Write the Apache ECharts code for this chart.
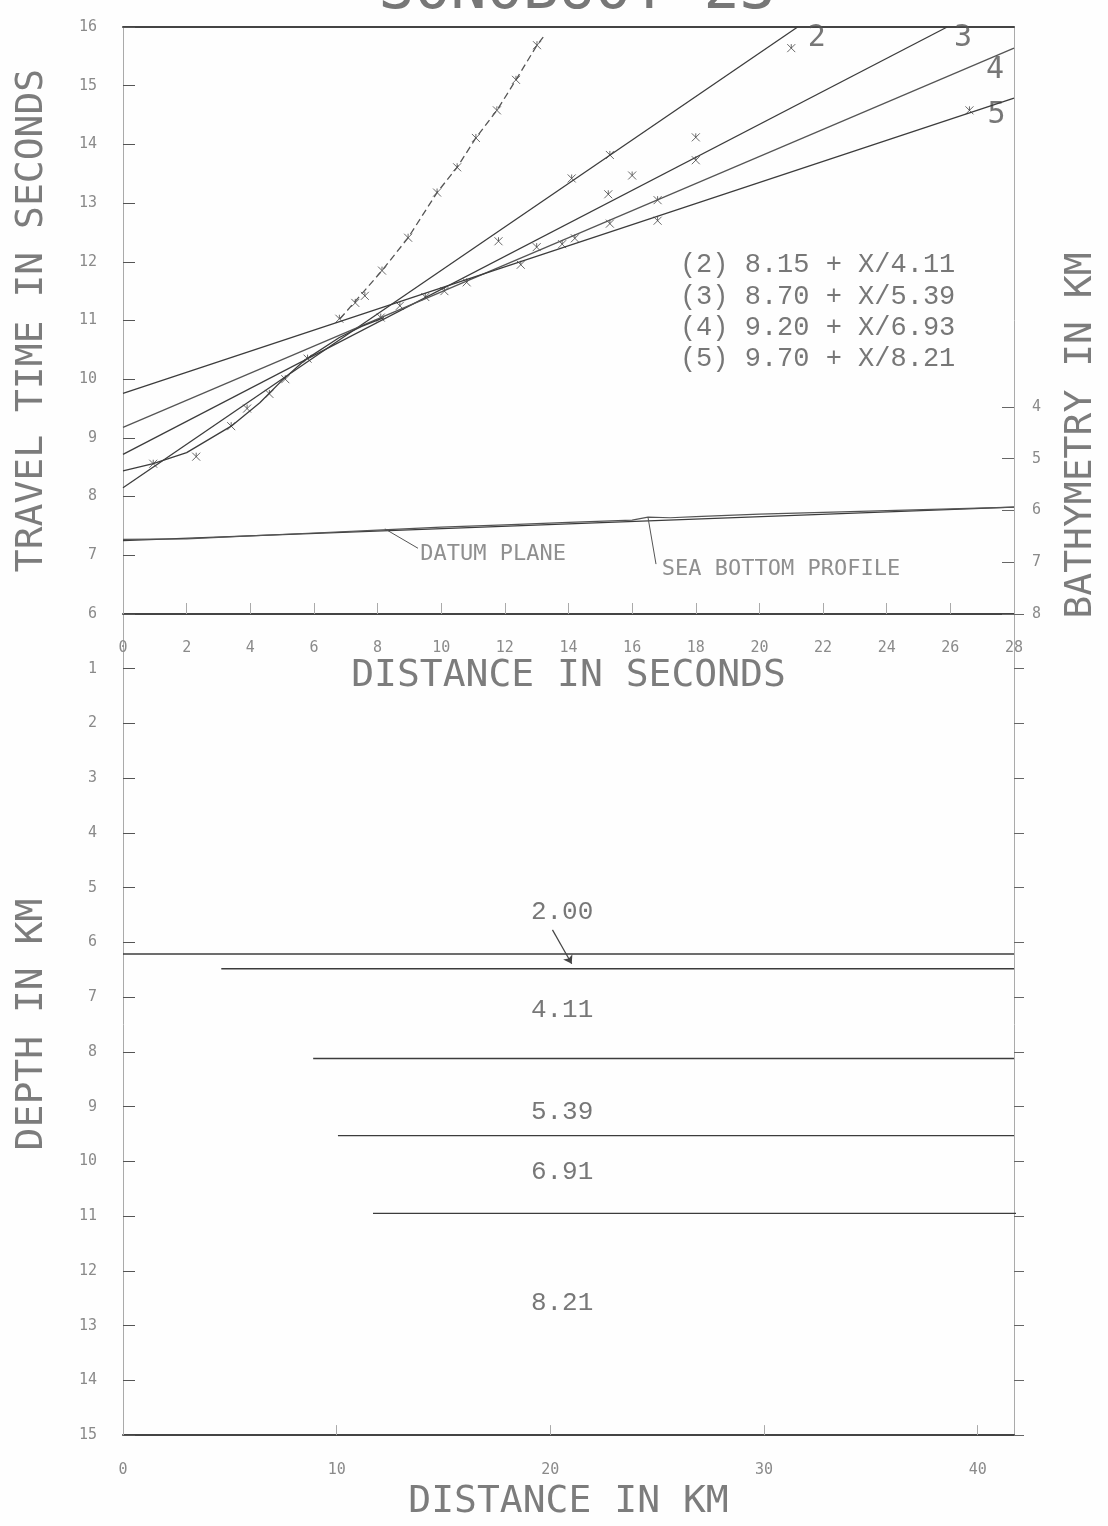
<!doctype html>
<html lang="en">
<head>
<meta charset="utf-8">
<title>Sonobuoy 23</title>
<script src="https://cdn.jsdelivr.net/npm/echarts@6/dist/echarts.min.js"></script>
<style>
  html, body { margin: 0; padding: 0; background: #fefefe; }
  #chart { width: 1108px; height: 1526px; }
</style>
</head>
<body>
<div id="chart"></div>
<script>
// ---- data ----
// top panel: distance in seconds (x) vs travel time in seconds (y)
var line1 = [[6.82, 11.03], [8.14, 11.85], [8.96, 12.41], [9.87, 13.18], [10.5, 13.61], [11.09, 14.11], [11.75, 14.58], [12.35, 15.10], [13.01, 15.69], [13.25, 15.86]];
var line2 = [[0, 8.15], [21.2, 16.0]];
var line3 = [[0, 8.72], [25.9, 16.0]];
var line4 = [[0, 9.18], [28, 15.64]];
var line5 = [[0, 9.76], [28, 14.79]];
var nearCurve = [[0, 8.44], [0.95, 8.56], [2, 8.75], [3.4, 9.2], [4.3, 9.6], [5.0, 9.98], [5.7, 10.32], [6.8, 10.71], [7.5, 10.9], [8.2, 11.05]];
var picks = [[0.95, 8.56], [2.3, 8.68], [3.4, 9.2], [3.9, 9.5], [4.6, 9.75], [5.1, 10.0], [5.8, 10.35], [6.8, 11.03],
  [7.3, 11.3], [7.6, 11.42], [8.1, 11.05], [8.14, 11.85], [8.7, 11.25], [8.96, 12.41], [9.5, 11.4], [9.87, 13.18],
  [10.1, 11.5], [10.5, 13.61], [10.8, 11.65], [11.09, 14.11], [11.75, 14.58], [11.8, 12.35], [12.35, 15.10],
  [12.5, 11.95], [13.01, 15.69], [13.0, 12.25], [13.8, 12.3], [14.1, 13.42], [14.2, 12.4], [15.25, 13.15],
  [15.3, 13.82], [15.3, 12.65], [16.0, 13.47], [16.8, 13.05], [16.8, 12.7], [18.0, 14.12], [18.0, 13.73],
  [21.0, 15.64], [26.6, 14.58]];
var datumPlane = [[0, 7.25], [28, 7.82]];
var seaBottom = [[0, 7.27], [2, 7.28], [4, 7.33], [6, 7.38], [8, 7.43], [10, 7.48], [12, 7.52], [14, 7.56], [16, 7.60],
  [16.5, 7.65], [17.2, 7.64], [18, 7.66], [20, 7.70], [22, 7.73], [24, 7.76], [26, 7.79], [28, 7.82]];
var bathyTicks = [4, 5, 6, 7, 8];
var equations = ['(2) 8.15 + X/4.11', '(3) 8.70 + X/5.39', '(4) 9.20 + X/6.93', '(5) 9.70 + X/8.21'];
var equationTimes = [11.94, 11.41, 10.88, 10.35];
var lineNames = ['2', '3', '4', '5'];
var lineNamePos = [[21.8, 15.81], [26.4, 15.81], [27.4, 15.26], [27.45, 14.5]];

// bottom panel: distance in km (x) vs depth in km (y)
var kmTicks = [0, 10, 20, 30, 40];
var layerDepths = [6.21, 6.48, 8.12, 9.53, 10.95];
var layerStarts = [0, 4.6, 8.9, 10.06, 11.7];
var layerEnds = [41.7, 41.7, 41.7, 41.7, 42.2];
var velocities = ['2.00', '4.11', '5.39', '6.91', '8.21'];
var velocityDepths = [5.45, 7.23, 9.10, 10.19, 12.58];
var velocityX = 20.55;

var ink = '#3c3c3c';
var textGray = '#737373';
var mono = '"DejaVu Sans Mono", monospace';
var typer = '"Liberation Mono", monospace';

var chart = echarts.init(document.getElementById('chart'), null, { renderer: 'canvas' });

function straight(data, color, type) {
  return {
    type: 'line', xAxisIndex: 0, yAxisIndex: 0, data: data, symbol: 'none',
    lineStyle: { color: color || ink, width: 1.3, type: type || 'solid' }, silent: true
  };
}

var series = [
  straight(line2), straight(line3), straight(line4, '#555'), straight(line5),
  straight(line1, '#555', [7, 4]),
  straight(nearCurve),
  {
    type: 'scatter', xAxisIndex: 0, yAxisIndex: 0, data: picks,
    symbol: 'path://M0,0L10,10M10,0L0,10M5,5L5,0', symbolSize: 8,
    itemStyle: { color: 'none', borderColor: '#444', borderWidth: 1 }, silent: true
  },
  {
    type: 'line', xAxisIndex: 0, yAxisIndex: 0, data: datumPlane, symbol: 'none',
    lineStyle: { color: ink, width: 1.2 }, silent: true,
    markLine: {
      silent: true, symbol: ['none', 'none'], label: { show: false },
      lineStyle: { color: '#555', width: 1, type: 'solid' },
      data: [
        [{ coord: [8.23, 7.45] }, { coord: [9.27, 7.12] }],
        [{ coord: [16.5, 7.64] }, { coord: [16.75, 6.85] }]
      ]
    }
  },
  {
    type: 'line', xAxisIndex: 0, yAxisIndex: 0, data: seaBottom, symbol: 'none',
    lineStyle: { color: '#555', width: 1.2 }, silent: true
  },
  {
    type: 'scatter', xAxisIndex: 0, yAxisIndex: 0, symbolSize: 0, silent: true,
    data: [{ value: [11.63, 7.02], name: 'DATUM PLANE' }, { value: [20.68, 6.77], name: 'SEA BOTTOM PROFILE' }],
    label: { show: true, position: 'inside', formatter: '{b}', fontFamily: mono, fontSize: 22, color: textGray }
  },
  {
    type: 'scatter', xAxisIndex: 0, yAxisIndex: 0, symbolSize: 0, silent: true,
    data: equations.map(function (s, i) { return { value: [17.5, equationTimes[i]], name: s }; }),
    label: { show: true, position: 'right', distance: 0, formatter: '{b}', fontFamily: typer, fontSize: 27, color: '#555' }
  },
  {
    type: 'scatter', xAxisIndex: 0, yAxisIndex: 0, symbolSize: 0, silent: true,
    data: lineNames.map(function (s, i) { return { value: lineNamePos[i], name: s }; }),
    label: { show: true, position: 'inside', formatter: '{b}', fontFamily: mono, fontSize: 30, color: '#555' }
  }
];

layerDepths.forEach(function (d, i) {
  var s = {
    type: 'line', xAxisIndex: 2, yAxisIndex: 2, symbol: 'none', clip: false, silent: true,
    data: [[layerStarts[i], d], [layerEnds[i], d]],
    lineStyle: { color: ink, width: 1.4 }
  };
  if (i === 0) {
    s.markLine = {
      silent: true, symbol: ['none', 'arrow'], symbolSize: 8, label: { show: false },
      lineStyle: { color: '#444', width: 1.2, type: 'solid' },
      data: [[{ coord: [20.1, 5.77] }, { coord: [21.0, 6.39] }]]
    };
  }
  series.push(s);
});

series.push({
  type: 'scatter', xAxisIndex: 2, yAxisIndex: 2, symbolSize: 0, silent: true,
  data: velocities.map(function (v, i) { return { value: [velocityX, velocityDepths[i]], name: v }; }),
  label: { show: true, position: 'inside', formatter: '{b}', fontFamily: typer, fontSize: 26, color: '#555' }
});

var tickLabel = { fontFamily: mono, fontSize: 15, color: '#8a8a8a' };
var nameStyle = { fontFamily: mono, fontSize: 38, color: '#7c7c7c' };

var option = {
  backgroundColor: '#fefefe',
  animation: false,
  title: {
    text: 'SONOBUOY 23', left: 572, top: -43, textAlign: 'center',
    textStyle: { fontFamily: mono, fontSize: 60, fontWeight: 'normal', color: '#777' }
  },
  grid: [
    { left: 123, top: 27, width: 891, height: 587 },
    { left: 123, top: 614, width: 891, height: 826 }
  ],
  xAxis: [
    {
      gridIndex: 0, type: 'value', min: 0, max: 28, interval: 2, position: 'bottom',
      axisLine: { show: true, onZero: false, lineStyle: { color: '#444', width: 2 } },
      axisTick: { show: true, inside: true, length: 11, lineStyle: { color: '#aaa' } },
      axisLabel: Object.assign({ margin: 27 }, tickLabel),
      splitLine: { show: false },
      name: 'DISTANCE IN SECONDS', nameLocation: 'middle', nameGap: 40, nameTextStyle: nameStyle
    },
    {
      gridIndex: 0, type: 'value', min: 0, max: 28, position: 'top',
      axisLine: { show: true, onZero: false, lineStyle: { color: '#444', width: 2 } },
      axisTick: { show: false }, axisLabel: { show: false }, splitLine: { show: false }
    },
    {
      gridIndex: 1, type: 'value', min: 0, max: 41.7, position: 'bottom',
      axisLine: { show: true, onZero: false, lineStyle: { color: '#444', width: 2 } },
      axisTick: { show: true, inside: true, length: 10, customValues: kmTicks, lineStyle: { color: '#aaa' } },
      axisLabel: Object.assign({ margin: 28, customValues: kmTicks }, tickLabel),
      splitLine: { show: false },
      name: 'DISTANCE IN KM', nameLocation: 'middle', nameGap: 42, nameTextStyle: nameStyle
    }
  ],
  yAxis: [
    {
      gridIndex: 0, type: 'value', min: 6, max: 16, interval: 1, position: 'left',
      axisLine: { show: true, onZero: false, lineStyle: { color: '#aaa', width: 1 } },
      axisTick: { show: true, inside: true, length: 12, lineStyle: { color: '#555' } },
      axisLabel: Object.assign({ margin: 26 }, tickLabel),
      splitLine: { show: false },
      name: 'TRAVEL TIME IN SECONDS', nameLocation: 'middle', nameGap: 72, nameRotate: 90, nameTextStyle: nameStyle
    },
    {
      gridIndex: 0, type: 'value', min: -3.34, max: 8, inverse: true, position: 'right',
      axisLine: { show: true, onZero: false, lineStyle: { color: '#aaa', width: 1 } },
      axisTick: { show: true, inside: true, length: 12, customValues: bathyTicks, lineStyle: { color: '#666' } },
      axisLabel: Object.assign({ margin: 18, customValues: bathyTicks }, tickLabel),
      splitLine: { show: false },
      name: 'BATHYMETRY IN KM', nameLocation: 'middle', nameGap: 48, nameRotate: 90,
      nameTextStyle: Object.assign({ padding: [0, 230, 0, 0] }, nameStyle)
    },
    {
      gridIndex: 1, type: 'value', min: 0, max: 15, interval: 1, inverse: true, position: 'left',
      axisLine: { show: true, onZero: false, lineStyle: { color: '#aaa', width: 1 } },
      axisTick: { show: true, inside: true, length: 12, lineStyle: { color: '#555' } },
      axisLabel: Object.assign({
        margin: 26, formatter: function (v) { return v === 0 ? '' : String(v); }
      }, tickLabel),
      splitLine: { show: false },
      name: 'DEPTH IN KM', nameLocation: 'middle', nameGap: 72, nameRotate: 90, nameTextStyle: nameStyle
    },
    {
      gridIndex: 1, type: 'value', min: 0, max: 15, interval: 1, inverse: true, position: 'right',
      axisLine: { show: true, onZero: false, lineStyle: { color: '#aaa', width: 1 } },
      axisTick: { show: true, inside: false, length: 10, lineStyle: { color: '#666' } },
      axisLabel: { show: false }, splitLine: { show: false }
    }
  ],
  series: series
};

chart.setOption(option);
</script>
</body>
</html>
